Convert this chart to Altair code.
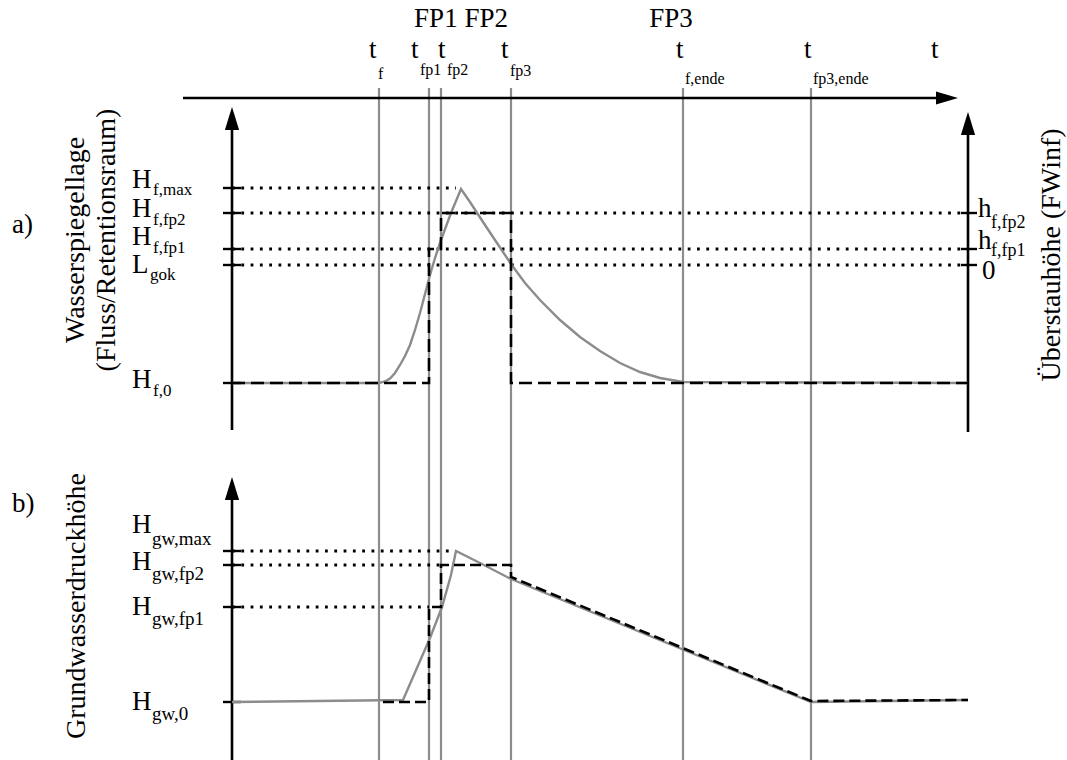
import altair as alt
import pandas as pd

W, H = 1067, 760

# ---------------- data (schematic units = drawing units) ----------------
t_names = ["f", "fp1", "fp2", "fp3", "f,ende", "fp3,ende"]
t_pos = [379, 429, 441, 511, 683, 811]

phase_names = ["FP1 FP2", "FP3"]

# panel a) levels (left axis)
a_sym = ["H", "H", "H", "L", "H"]
a_sub = ["f,max", "f,fp2", "f,fp1", "gok", "f,0"]
a_lvl = [188, 213, 249, 265, 383]
a_dot_end = [456, 968, 968, 968]          # dotted guide ends (max, fp2, fp1, gok)

# panel a) right axis (Überstauhöhe)
r_sym = ["h", "h", "0"]
r_sub = ["f,fp2", "f,fp1", ""]
r_lvl = [213, 249, 265]

# panel b) levels
b_sym = ["H", "H", "H", "H"]
b_sub = ["gw,max", "gw,fp2", "gw,fp1", "gw,0"]
b_lvl = [551, 565, 607, 702]
b_dot_end = [452, 441, 429]

# river water level (gray curve, panel a)
fa_t = [232, 379, 385, 390, 395, 400, 405, 410, 415, 420, 425, 430, 435, 441, 451, 461,
        470, 483, 497, 511, 525, 540, 560, 580, 600, 620, 640, 660, 683, 968]
fa_h = [383, 383, 381.5, 378.5, 373, 365, 356, 345, 330, 313, 294, 275, 258, 240, 213, 189,
        202, 222, 243, 264, 283, 300, 320, 337, 351, 363, 372, 378, 382, 383]

# flood-plain water level steps (dashed, panel a)
fpa_t = [232, 429, 429, 441, 441, 511, 511, 968]
fpa_h = [383, 383, 249, 249, 213, 213, 383, 383]

# groundwater head (gray, panel b)
gb_t = [232, 403, 430, 442, 451, 456, 480, 511, 811, 968]
gb_h = [702, 700, 638, 607, 575, 551, 563, 579, 702, 700]

# groundwater head, stepped model (dashed, panel b)
gbd_t = [383, 429, 429, 441, 441, 511, 511, 811, 968]
gbd_h = [702, 702, 607, 607, 565, 565, 577, 701, 700]

# ---------------- helpers ----------------
XS = alt.Scale(domain=[0, W])
YS = alt.Scale(domain=[0, H], reverse=True)
FONT = "Liberation Serif"
GRAY = "#8c8c8c"


def X(f):
    return alt.X(f, type="quantitative", scale=XS, axis=None)


def Y(f):
    return alt.Y(f, type="quantitative", scale=YS, axis=None)


def rules(df, **kw):
    return alt.Chart(df).mark_rule(**kw).encode(
        x=X("x"), x2=alt.X2("x2"), y=Y("y"), y2=alt.Y2("y2"))


def poly(ts, hs, **kw):
    df = pd.DataFrame({"x": ts, "y": hs, "i": range(len(ts))})
    return alt.Chart(df).mark_line(**kw).encode(
        x=X("x"), y=Y("y"), order=alt.Order("i:Q"))


def texts(df, **kw):
    return alt.Chart(df).mark_text(font=FONT, color="black", **kw).encode(
        x=X("x"), y=Y("y"), text="text:N", size=alt.Size("fs:Q", scale=None))


layers = []

# vertical time markers
tdf = pd.DataFrame({"x": t_pos, "x2": t_pos, "y": [88] * len(t_pos), "y2": [H] * len(t_pos)})
layers.append(rules(tdf, color=GRAY, strokeWidth=2.2))

# dotted guides
dots = []
for lvl, end in zip(a_lvl[:4], a_dot_end):
    dots.append((232, end, lvl))
for lvl, end in zip(b_lvl[:3], b_dot_end):
    dots.append((232, end, lvl))
ddf = pd.DataFrame(dots, columns=["x", "x2", "y"])
ddf["y2"] = ddf["y"]
layers.append(rules(ddf, color="black", strokeWidth=2.8, strokeDash=[2.8, 6.5]))

# axes
ax = pd.DataFrame({
    "x": [183, 232, 968, 232],
    "x2": [940, 232, 968, 232],
    "y": [98, 430, 432, 760],
    "y2": [98, 128, 132, 498],
})
layers.append(rules(ax, color="black", strokeWidth=2.6))

# ticks
tk = []
for lvl in a_lvl + b_lvl:
    tk.append((223, 241, lvl))
for lvl in r_lvl:
    tk.append((961, 977, lvl))
tkdf = pd.DataFrame(tk, columns=["x", "x2", "y"])
tkdf["y2"] = tkdf["y"]
layers.append(rules(tkdf, color="black", strokeWidth=2.4))

# arrow heads
up = pd.DataFrame({"x": [232, 968, 232], "y": [130, 135, 500]})
layers.append(alt.Chart(up).mark_point(
    shape="M0,-2L0.62,0L-0.62,0Z", size=529, filled=True, opacity=1,
    color="black", strokeWidth=0).encode(x=X("x"), y=Y("y")))
right = pd.DataFrame({"x": [936], "y": [98]})
layers.append(alt.Chart(right).mark_point(
    shape="M2,0L0,-0.6L0,0.6Z", size=484, filled=True, opacity=1,
    color="black", strokeWidth=0).encode(x=X("x"), y=Y("y")))

# curves
layers.append(poly(fa_t, fa_h, color=GRAY, strokeWidth=2.4))
layers.append(poly(fpa_t, fpa_h, color="black", strokeWidth=2.6, strokeDash=[13, 6]))
layers.append(poly(gb_t, gb_h, color=GRAY, strokeWidth=2.4))
layers.append(poly(gbd_t, gbd_h, color="black", strokeWidth=2.6, strokeDash=[11, 5]))

# ---------------- text ----------------
MAIN = 27
left_rows = []
sub_rows = []

# time labels
t_lab_x = [369, 411, 438, 501, 676, 804]
t_sub_y = [79, 75, 75, 76, 84, 84]
for nm, lx, sy in zip(t_names, t_lab_x, t_sub_y):
    left_rows.append((lx, 58, "t", MAIN))
    sub_rows.append((lx + 9, sy, nm, 16))
left_rows.append((931, 58, "t", MAIN))

# panel a left labels
a_lab_y = [188, 217, 245, 273, 388]
a_sub_y = [195, 225, 253, 280, 396]
for sym, sub, ly, sy in zip(a_sym, a_sub, a_lab_y, a_sub_y):
    left_rows.append((132, ly, sym, MAIN))
    sub_rows.append((132 + (21 if sym == "H" else 18), sy, sub, 17))

# panel a right labels
r_lab_y = [217, 249, 279]
r_sub_y = [228, 256, 0]
for sym, sub, ly, sy in zip(r_sym, r_sub, r_lab_y, r_sub_y):
    left_rows.append((978 if sym == "h" else 982, ly, sym, MAIN))
    if sub:
        sub_rows.append((991, sy, sub, 18))

# panel b labels
b_lab_y = [533, 570, 615, 710]
b_sub_y = [545, 580, 625, 720]
for sym, sub, ly, sy in zip(b_sym, b_sub, b_lab_y, b_sub_y):
    left_rows.append((132, ly, sym, MAIN))
    sub_rows.append((152, sy, sub, 19))

left_rows.append((12, 233, "a)", MAIN))
left_rows.append((12, 512, "b)", MAIN))

layers.append(texts(pd.DataFrame(left_rows, columns=["x", "y", "text", "fs"]),
                    align="left", baseline="alphabetic"))
layers.append(texts(pd.DataFrame(sub_rows, columns=["x", "y", "text", "fs"]),
                    align="left", baseline="alphabetic"))

# phase headings
ph = pd.DataFrame({"x": [461, 671], "y": [27, 27], "text": phase_names, "fs": [MAIN, MAIN]})
layers.append(texts(ph, align="center", baseline="alphabetic"))

# rotated axis titles
rot = pd.DataFrame({
    "x": [76, 107, 1052, 77],
    "y": [240, 240, 255, 606],
    "text": ["Wasserspiegellage", "(Fluss/Retentionsraum)", "Überstauhöhe (FWinf)",
             "Grundwasserdruckhöhe"],
    "fs": [28] * 4,
})
layers.append(texts(rot, align="center", baseline="middle", angle=270))

chart = alt.layer(*layers).properties(
    width=W, height=H, padding=0, autosize="none", background="white"
).configure_view(stroke=None)

chart.save("out.html", embed_options={"renderer": "svg", "actions": False})
